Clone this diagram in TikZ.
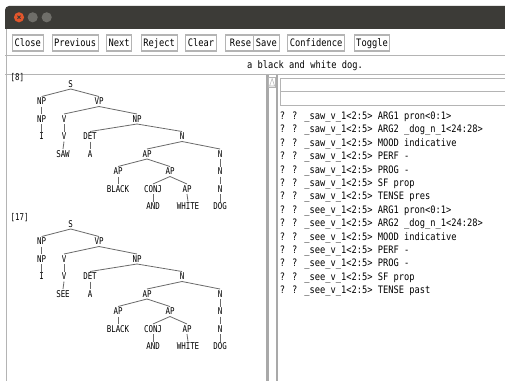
\documentclass[tikz,border=0pt]{standalone}
\usepackage{fontspec}
\usepackage{tikz}
\newfontfamily\guifont[FakeStretch=0.85]{DejaVu Sans Mono}
\newfontfamily\treefont[FakeStretch=0.8]{DejaVu Sans Mono}
\definecolor{titlebg}{HTML}{3C3B37}
\definecolor{closered}{HTML}{E2562C}
\definecolor{knobgray}{HTML}{6F6E69}
\definecolor{frameline}{HTML}{B4B4B4}
\definecolor{branchgray}{HTML}{6A6A6A}
\definecolor{bargray}{HTML}{A9A9A9}

\tikzset{
  btn/.style={draw=frameline, fill=white, line width=0.8pt, inner xsep=1.6pt, inner ysep=0pt,
    minimum height=12pt, text height=5.6pt, text depth=0pt, font=\guifont\fontsize{7.7}{9}\selectfont},
  cat/.style={inner sep=1pt, text height=5.1pt, text depth=0pt, font=\treefont\fontsize{7}{8}\selectfont},
  branch/.style={draw=branchgray, line width=0.6pt},
  msg/.style={anchor=base west, inner sep=0pt, font=\guifont\fontsize{7.7}{9}\selectfont},
}

% one parse tree: #1 name prefix, #2 y offset, #3 verb, #4 reading number
\newcommand{\parsetree}[4]{%
\begin{scope}[shift={(0,#2)}]
\node[cat, anchor=west] (#1num) at (9,77) {[#4]};
\node[cat] (#1s) at (70.7,84) {S};
\node[cat] (#1npa) at (41.7,101.5) {NP};
\node[cat] (#1vp) at (99,101.5) {VP};
\node[cat] (#1npb) at (41.7,119) {NP};
\node[cat] (#1va) at (64,119) {V};
\node[cat] (#1npc) at (137,119) {NP};
\node[cat] (#1i) at (41.7,136.5) {I};
\node[cat] (#1vb) at (64,136.5) {V};
\node[cat] (#1det) at (90,136.5) {DET};
\node[cat] (#1na) at (182,136.5) {N};
\node[cat] (#1verb) at (63,154) {#3};
\node[cat] (#1a) at (90,154) {A};
\node[cat] (#1apa) at (147,154) {AP};
\node[cat] (#1nb) at (220,154) {N};
\node[cat] (#1apb) at (118,171.5) {AP};
\node[cat] (#1apc) at (170,171.5) {AP};
\node[cat] (#1nc) at (220,171.5) {N};
\node[cat] (#1black) at (118,189) {BLACK};
\node[cat] (#1conj) at (153,189) {CONJ};
\node[cat] (#1apd) at (187,189) {AP};
\node[cat] (#1nd) at (220,189) {N};
\node[cat] (#1and) at (153,206.5) {AND};
\node[cat] (#1white) at (188,206.5) {WHITE};
\node[cat] (#1dog) at (220,206.5) {DOG};
\foreach \up/\down in {s/npa, s/vp, npa/npb, npb/i, vp/va, vp/npc, va/vb, vb/verb,
    npc/det, npc/na, det/a, na/apa, na/nb, apa/apb, apa/apc, apb/black,
    apc/conj, apc/apd, conj/and, apd/white, nb/nc, nc/nd, nd/dog}
  \draw[branch] (#1\up.south) -- (#1\down.north);
\end{scope}}

\begin{document}
\begin{tikzpicture}[x=0.75pt, y=-0.75pt]
\useasboundingbox (0,0) rectangle (505,381);
\fill[white] (0,0) rectangle (505,381);

% title bar
\fill[titlebg, rounded corners=3pt] (5,6) rectangle (512,29);
\fill[titlebg] (5,15) rectangle (505,29);
\fill[closered] (19,17.3) circle[radius=3.8pt];
\draw[titlebg, line width=0.6pt] (17.4,15.7) -- (20.6,18.9) (17.4,18.9) -- (20.6,15.7);
\fill[knobgray] (32.7,17.3) circle[radius=3.8pt];
\fill[knobgray] (46.7,17.3) circle[radius=3.8pt];

% buttons
\node[btn] (close) at (27.8,43) {Close};
\node[btn] (previous) at (75.2,43) {Previous};
\node[btn] (next) at (119.2,43) {Next};
\node[btn] (reject) at (159.2,43) {Reject};
\node[btn] (clear) at (201,43) {Clear};
\node[btn, anchor=west, minimum width=22pt] (rese) at (225.3,43) {Rese\hspace{3pt}};
\node[btn, anchor=west] (save) at (253.3,43) {Save};
\node[btn] (confidence) at (316.2,43) {Confidence};
\node[btn] (toggle) at (372,43) {Toggle};

% sentence field
\draw[frameline] (5,55.5) -- (505,55.5);
\draw[frameline] (5,74.5) -- (505,74.5);
\node[font=\guifont\fontsize{7.7}{9}\selectfont, inner sep=0pt] (sentence) at (305,66) {a black and white dog.};
\draw[frameline, line width=1pt] (6.5,29) -- (6.5,381);

% pane divider
\fill[bargray] (266,75) rectangle (268.5,381);
\fill[bargray] (275.7,75) rectangle (278.2,381);
\draw[frameline, fill=white] (268.5,77) rectangle (275.7,87);
\draw[frameline] (269.6,86) -- (272.1,78.6) -- (274.6,86) -- cycle;

% right pane
\draw[frameline] (280.5,78) rectangle (507,91.5);
\draw[frameline] (280.5,91.5) rectangle (507,105);
\foreach \w/\rest [count=\k from 0] in {saw/ARG1 pron<0:1>, saw/ARG2 \_dog\_n\_1<24:28>,
    saw/MOOD indicative, saw/PERF -, saw/PROG -, saw/SF prop, saw/TENSE pres,
    see/ARG1 pron<0:1>, see/ARG2 \_dog\_n\_1<24:28>, see/MOOD indicative,
    see/PERF -, see/PROG -, see/SF prop, see/TENSE past}
  \node[msg] (m\k) at (279.5,{119.5+13.4*\k}) {? ? \_\w\_v\_1<2:5> \rest};

% parse trees
\parsetree{ta}{0}{SAW}{8}
\parsetree{tb}{140}{SEE}{17}
\end{tikzpicture}
\end{document}
